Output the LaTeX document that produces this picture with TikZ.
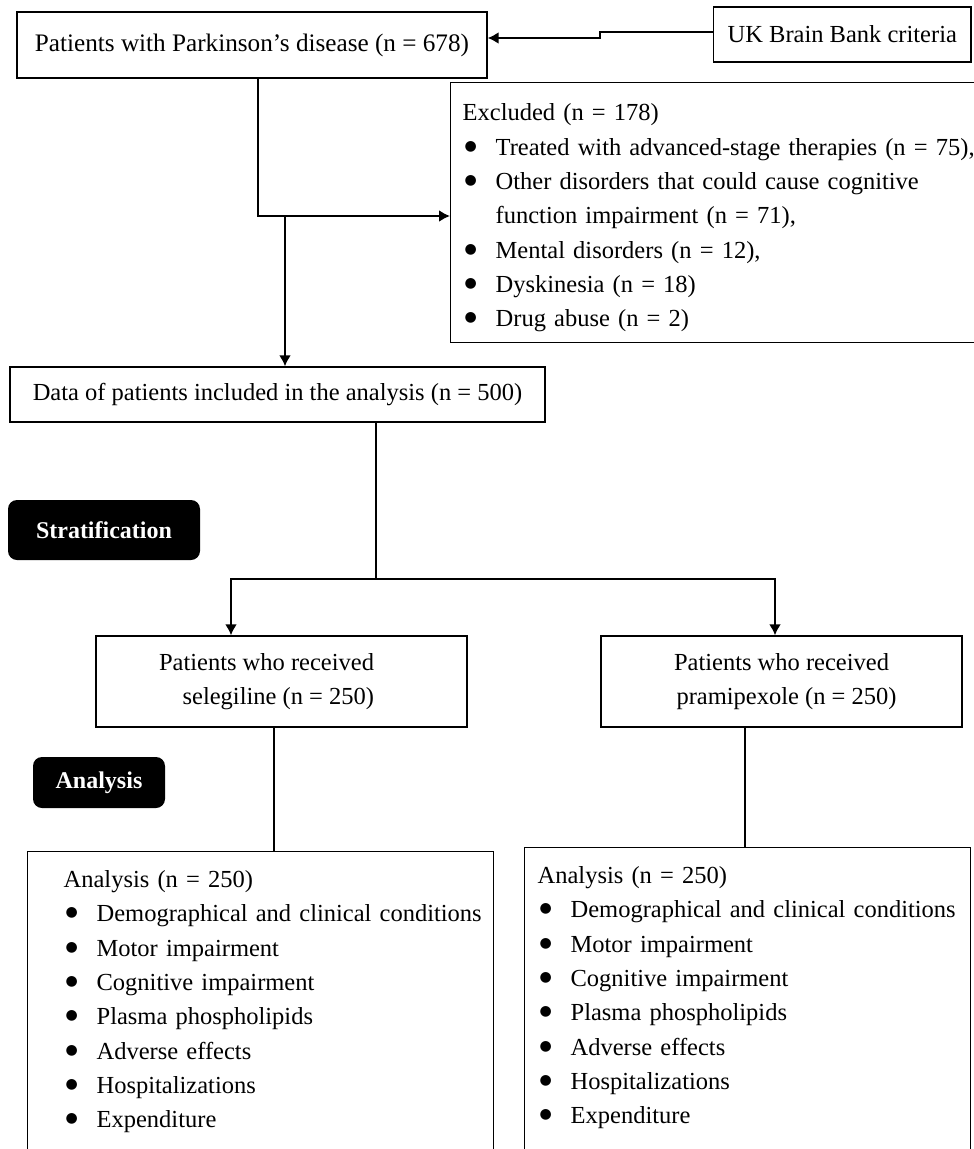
\documentclass[tikz,border=0pt]{standalone}
\usepackage{fontspec}
\setmainfont{Liberation Serif}
\newfontfamily\dejavu{DejaVu Sans}
\usepackage{tikz}
\usetikzlibrary{calc, positioning, arrows.meta}

\newcommand{\itm}{\makebox[33pt][l]{\hspace{2pt}\raisebox{5pt}{\dejavu\fontsize{14}{14}\selectfont ●}}}

\tikzset{
  box/.style={draw, line width=1.3pt, inner sep=0pt,
    font=\fontsize{24.5}{34.3}\selectfont},
  listbox/.style={box, anchor=north west, align=left, text width=#1, inner ysep=19pt},
  tag/.style={fill=black, text=white, rounded corners=9pt, inner sep=0pt,
    font=\fontsize{24}{28}\selectfont\bfseries},
  link/.style={line width=1.3pt},
  arrow/.style={->, line width=2.8pt},
}

\begin{document}
\begin{tikzpicture}[>={Latex[length=11pt,width=12pt]}, x=1pt, y=-1pt]
  \clip (0,0) rectangle (974,1149);
  % boxes
  \node[box, font=\fontsize{25.2}{30}\selectfont, minimum width=470pt, minimum height=66pt] (A) at (252,45)
    {Patients with Parkinson’s disease (n = 678)};
  \node[box, anchor=west, inner xsep=14pt, minimum height=55pt] (uk) at (713,34.5)
    {UK Brain Bank criteria};
  \node[listbox=560pt, inner ysep=8pt, minimum height=260pt] (excl) at (450,82)
    {\leftskip=12pt \rule{0pt}{27.5pt}Excluded (n = 178)\\
     \itm Treated with advanced-stage therapies (n = 75),\\
     \itm Other disorders that could cause cognitive\\
     \hspace*{33pt}function impairment (n = 71),\\
     \itm Mental disorders (n = 12),\\
     \itm Dyskinesia (n = 18)\\
     \itm Drug abuse (n = 2)\par};
  \node[box, minimum width=535pt, minimum height=55pt] (C) at (277.5,394.5)
    {Data of patients included in the analysis (n = 500)};
  \node[tag, minimum width=192pt, minimum height=60pt] (strat) at (104,530) {Stratification};
  \node[box, align=right, minimum width=371pt, minimum height=91pt] (L) at (281.5,681.5)
    {Patients who received\hspace*{30pt}\\ selegiline (n = 250)\hspace*{30pt}};
  \node[box, align=center, minimum width=361pt, minimum height=91pt] (R) at (781.5,681.5)
    {Patients who received\\ \hspace*{10pt}pramipexole (n = 250)};
  \node[tag, minimum width=132pt, minimum height=51pt] (anl) at (99,782.5) {Analysis};
  \node[listbox=466pt] (LL) at (27,851)
    {\leftskip=36pt Analysis (n = 250)\\
     \itm Demographical and clinical conditions\\
     \itm Motor impairment\\
     \itm Cognitive impairment\\
     \itm Plasma phospholipids\\
     \itm Adverse effects\\
     \itm Hospitalizations\\
     \itm Expenditure\\ \mbox{}};
  \node[listbox=446pt] (RR) at (524,847)
    {\leftskip=13pt Analysis (n = 250)\\
     \itm Demographical and clinical conditions\\
     \itm Motor impairment\\
     \itm Cognitive impairment\\
     \itm Plasma phospholipids\\
     \itm Adverse effects\\
     \itm Hospitalizations\\
     \itm Expenditure\\ \mbox{}};

  % connectors
  \coordinate (jogA) at (600,32);
  \coordinate (jogB) at (600,38);
  \draw[arrow] ([yshift=2.5pt]uk.west) -- (jogA) -- (jogB) -- ([yshift=7pt]A.east);
  \coordinate (split) at (258,216);
  \coordinate (drop) at (285,216);
  \draw[arrow] (A.south -| split) -- (split) -- (split -| excl.west);
  \draw[arrow] (split) -- (drop) -- (drop |- C.north);
  \coordinate (fork) at (376,579);
  \coordinate (forkL) at (231,579);
  \coordinate (forkR) at (775,579);
  \draw[link] (C.south -| fork) -- (fork);
  \draw[arrow] (fork) -- (forkL) -- (forkL |- L.north);
  \draw[arrow] (fork) -- (forkR) -- (forkR |- R.north);
  \draw[link] ([xshift=-7.5pt]L.south) -- ([xshift=-7.5pt]L.south |- LL.north);
  \draw[link] ([xshift=-36.5pt]R.south) -- ([xshift=-36.5pt]R.south |- RR.north);
\end{tikzpicture}
\end{document}
